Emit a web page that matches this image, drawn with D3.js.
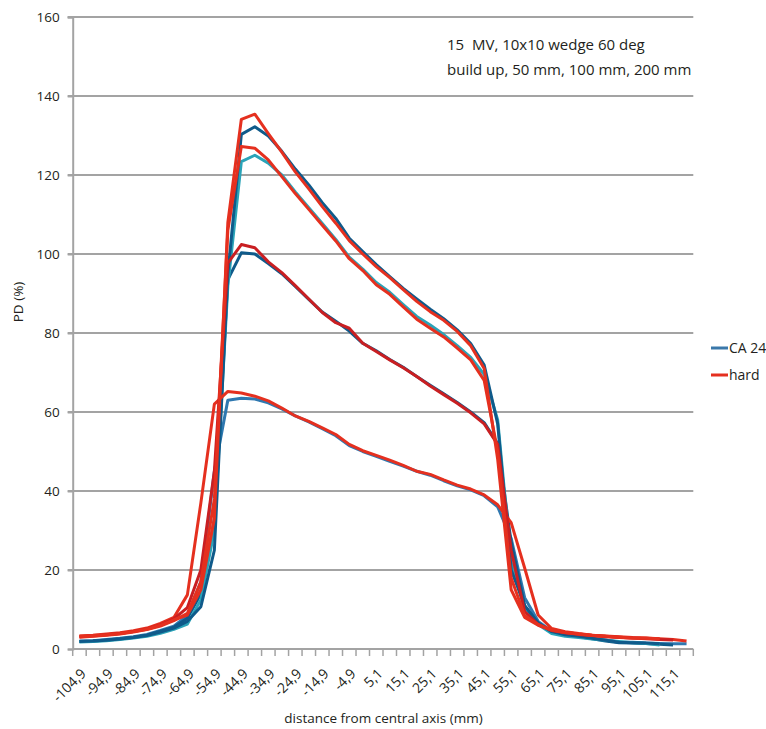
<!DOCTYPE html>
<html><head><meta charset="utf-8">
<script src="https://cdn.jsdelivr.net/npm/d3@7"></script>
<style>
html,body{margin:0;padding:0;background:#fff;}
svg text{font-family:"Open Sans","Noto Sans",sans-serif;fill:#231f20;white-space:pre;}
</style></head>
<body><svg id="c" width="766" height="729"></svg>
<script>
const categories = ["-104,9","-99,9","-94,9","-89,9","-84,9","-79,9","-74,9","-69,9","-64,9","-59,9",
"-54,9","-49,9","-44,9","-39,9","-34,9","-29,9","-24,9","-19,9","-14,9","-9,9",
"-4,9","0,1","5,1","10,1","15,1","20,1","25,1","30,1","35,1","40,1",
"45,1","50,1","55,1","60,1","65,1","70,1","75,1","80,1","85,1","90,1",
"95,1","100,1","105,1","110,1","115,1","120,1"];
const yTicks = [0,20,40,60,80,100,120,140,160];

const caBuildUp = [1.9,2.0,2.2,2.5,2.9,3.4,4.3,5.3,7.0,10.7,25,95,130.3,132.2,129.9,126,121.5,117.5,113,109,104,100.6,97.3,94.3,91.3,88.6,86,83.6,80.8,77.3,71.9,57,20,11,6.5,4.4,3.6,3.2,2.7,2.2,1.7,1.6,1.5,1.3,null,null];
const ca50 = [1.8,1.9,2.1,2.4,2.8,3.2,4.0,5.0,6.3,12.5,30,92,123.4,125,123,120,115.7,111.7,107.7,103.7,99.2,96.2,92.8,90.3,87.2,84.2,82,79.6,76.8,73.8,69.5,58,22,10,6.2,3.9,3.2,2.9,2.5,2.2,1.9,1.6,1.4,1.0,null,null];
const ca100 = [1.9,2.0,2.3,2.6,3.0,3.5,4.5,5.5,7.8,14,33,93.5,100.3,100,97.6,95,91.8,88.5,85.3,83,80.5,77.4,75.5,73.3,71.3,69,66.8,64.6,62.4,60,57.3,52,27,11,6.6,4.3,3.5,3.1,2.6,2.0,1.6,1.5,1.4,1.2,1.0,null];
const ca200 = [2.0,2.1,2.4,2.7,3.1,3.7,4.7,5.8,8.5,17,45,63,63.5,63.3,62.3,60.8,59,57.5,55.8,54,51.5,50,48.8,47.5,46.3,45,44,42.6,41.3,40.3,38.8,36,28,13,7,4.5,3.7,3.2,2.7,2.3,1.8,1.7,1.5,1.4,1.3,1.3];
const hardBuildUp = [3.2,3.4,3.6,3.9,4.4,5.0,6.0,7.4,8.6,15,33,108,134.1,135.4,130.5,125.8,120.8,116.5,112,107.8,103.4,100,96.8,94,91,88,85.4,83.2,80.4,76.8,71,48,15,8,6.0,4.8,4.2,3.8,3.5,3.2,3.0,2.8,2.7,2.6,null,null];
const hard50 = [3.0,3.2,3.5,3.8,4.3,4.9,5.8,7.2,9,17,38,106,127.2,126.8,123.8,119.6,115.3,111.3,107.3,103.3,98.8,95.8,92.2,89.8,86.6,83.5,81.2,79,76.2,73.2,68,50,18,8.5,6.2,4.8,4.2,3.8,3.4,3.2,3.0,2.8,2.7,2.5,null,null];
const hard100 = [3.1,3.3,3.6,3.9,4.4,5.1,6.1,7.6,10.5,20,45,97.7,102.4,101.6,98,95.3,92,88.6,85.2,82.6,81.2,77.4,75.3,73.2,71.2,69,66.6,64.4,62.2,59.8,57,51.8,25,9.5,6.2,4.7,4.1,3.7,3.4,3.1,2.9,2.8,2.6,2.4,2.3,null];
const hard200 = [3.3,3.5,3.8,4.1,4.6,5.3,6.5,8.0,13.7,37,62,65.2,64.8,64,62.8,61,59,57.6,56,54.3,51.8,50.2,49,47.8,46.5,45,44.2,42.8,41.5,40.5,39,36.5,32,20.5,8.6,5.2,4.4,3.9,3.5,3.3,3.1,2.9,2.8,2.6,2.4,2.0];

const series = [
  {values: ca200, color:"#2f78b0"},
  {values: ca100, color:"#0f5a8a"},
  {values: ca50, color:"#2aa3b8"},
  {values: caBuildUp, color:"#0f5a8a"},
  {values: hard200, color:"#e5301f"},
  {values: hard100, color:"#c91f22"},
  {values: hard50, color:"#e5301f"},
  {values: hardBuildUp, color:"#e5301f"}
];
const legendItems = [{name:"CA 24", color:"#3a78aa"},{name:"hard", color:"#e5301f"}];

const L = 72.7, R = 693.3, T = 17, B = 649;
const svg = d3.select("#c");
const x = d3.scaleBand().domain(categories).range([L, R]).padding(0);
const y = d3.scaleLinear().domain([0,160]).range([B, T]);
const grid = "#a3a3a3";

// gridlines
svg.append("g").selectAll("line").data(yTicks.filter(d=>d>0)).join("line")
  .attr("x1", L-5).attr("x2", R).attr("y1", d=>y(d)).attr("y2", d=>y(d))
  .attr("stroke", grid).attr("stroke-width", 2);

// y axis
const yAxis = svg.append("g").attr("transform", `translate(${L},0)`)
  .call(d3.axisLeft(y).tickValues(yTicks).tickSize(5).tickPadding(8).tickFormat(d3.format("d")));
yAxis.select(".domain").attr("stroke", grid).attr("stroke-width", 2);
yAxis.selectAll(".tick line").attr("stroke", grid).attr("stroke-width", 2);
yAxis.selectAll(".tick text").attr("font-size", 13.5).attr("font-family", "Open Sans").attr("fill", "#231f20").attr("dy","0.35em");

// x axis
const xg = svg.append("g").attr("transform", `translate(0,${B})`);
xg.append("line").attr("x1", L).attr("x2", R).attr("stroke", grid).attr("stroke-width", 2);
const bounds = categories.map(c => x(c)).concat([R]);
xg.selectAll("line.tk").data(bounds).join("line").attr("class","tk")
  .attr("x1", d=>d).attr("x2", d=>d).attr("y1", 0).attr("y2", 7)
  .attr("stroke", grid).attr("stroke-width", 1.5);
xg.selectAll("text").data(categories.filter((c,i)=>i%2===0)).join("text")
  .attr("transform", d => `translate(${x(d)+x.bandwidth()/2+4},${22}) rotate(-45)`)
  .attr("text-anchor","end").attr("dy","0.35em")
  .attr("font-size", 14).text(d=>d);

// lines
const line = d3.line().defined(d=>d.v!=null).x(d=>x(d.c)+x.bandwidth()/2).y(d=>y(d.v));
svg.append("g").selectAll("path").data(series).join("path")
  .attr("d", s => line(s.values.map((v,i)=>({c:categories[i], v}))))
  .attr("fill","none").attr("stroke", s=>s.color).attr("stroke-width", 3)
  .attr("stroke-linejoin","round");

// titles
svg.append("text").attr("x", 383.5).attr("y", 723).attr("text-anchor","middle")
  .attr("font-size", 13.5).text("distance from central axis (mm)");
svg.append("text").attr("transform","translate(23,302) rotate(-90)").attr("text-anchor","middle")
  .attr("font-size", 13.5).text("PD (%)");
svg.append("text").attr("x", 447).attr("y", 50).attr("font-size", 15).text("15  MV, 10x10 wedge 60 deg");
svg.append("text").attr("x", 447).attr("y", 75).attr("font-size", 15).text("build up, 50 mm, 100 mm, 200 mm");

// legend
const lg = svg.append("g").selectAll("g").data(legendItems).join("g")
  .attr("transform", (d,i)=>`translate(711,${348+i*27})`);
lg.append("line").attr("x1",0).attr("x2",17).attr("stroke", d=>d.color).attr("stroke-width",3);
lg.append("text").attr("x",18).attr("y",0).attr("dy","0.35em").attr("font-size",14).text(d=>d.name);
</script></body></html>
